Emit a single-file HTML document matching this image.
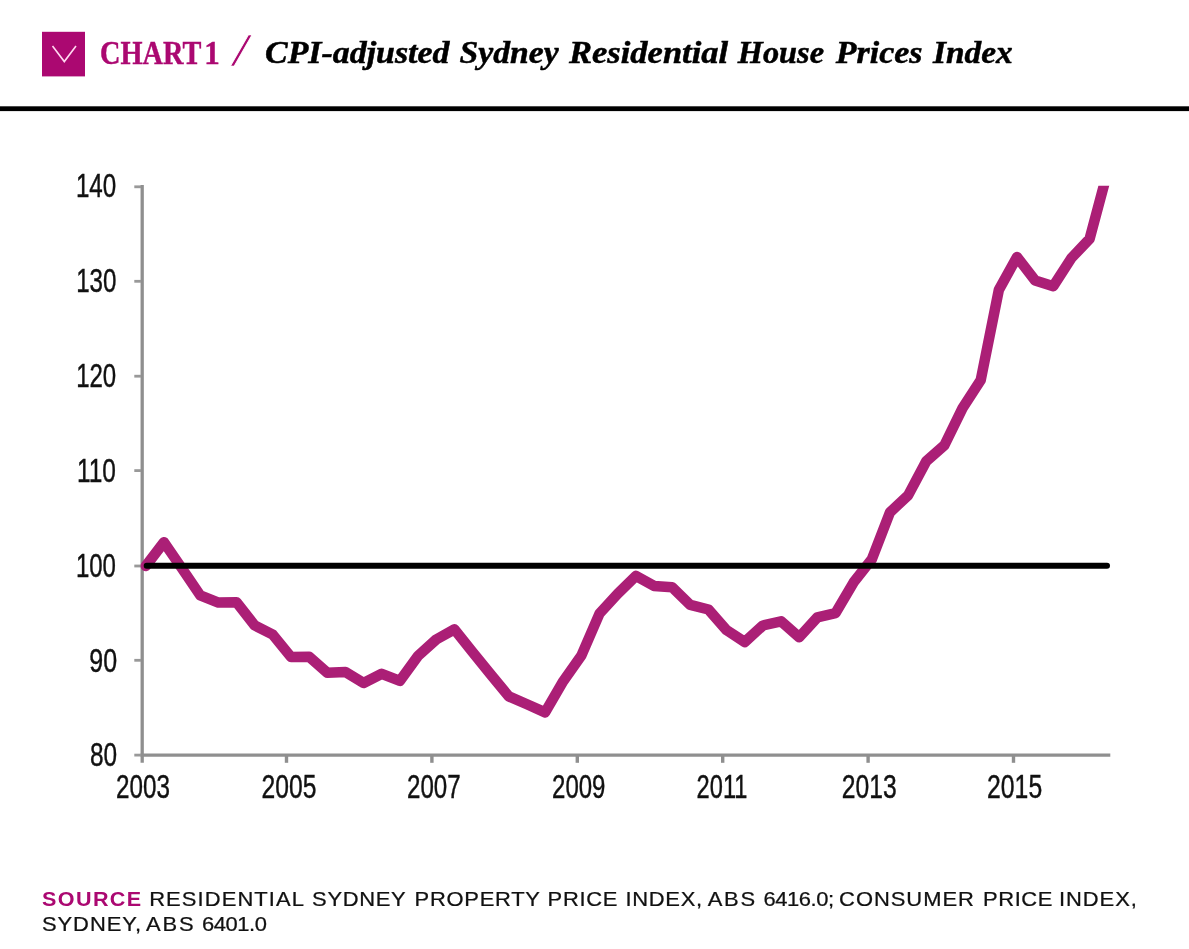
<!DOCTYPE html>
<html lang="en">
<head>
<meta charset="utf-8">
<title>Chart 1 - CPI-adjusted Sydney Residential House Prices Index</title>
<style>
html,body{margin:0;padding:0;background:#fff;}
body{width:1189px;height:949px;overflow:hidden;}
svg{display:block;will-change:transform;}
text{white-space:pre;}
.ax{font-family:"Liberation Sans",sans-serif;font-size:33px;fill:#111;stroke:#111;stroke-width:0.45px;}
.src{font-family:"Liberation Sans",sans-serif;font-size:19.6px;fill:#111;stroke:#111;stroke-width:0.25px;}
.srcb{font-family:"Liberation Sans",sans-serif;font-size:19.6px;font-weight:bold;fill:#ab0871;}
.ch{font-family:"Liberation Serif",serif;font-weight:bold;font-size:34.6px;fill:#ab0871;stroke:#ab0871;stroke-width:0.45px;}
.tt{font-family:"Liberation Serif",serif;font-weight:bold;font-style:italic;font-size:31.6px;fill:#000;stroke:#000;stroke-width:0.5px;}
</style>
</head>
<body>
<svg width="1189" height="949" viewBox="0 0 1189 949">
<rect width="1189" height="949" fill="#fff"/>
<!-- header icon -->
<rect x="42" y="31.8" width="43" height="44.6" fill="#ab0871"/>
<polyline points="52.5,46.1 64.3,61.6 76,46.1" fill="none" stroke="#ffd9f0" stroke-width="1.6"/>
<!-- header slash -->
<text x="230.4" y="65.6" font-family="Liberation Serif, serif" font-size="45.5" fill="#ab0871" stroke="#fff" stroke-width="0.6" textLength="21.5" lengthAdjust="spacingAndGlyphs">/</text>
<rect x="0" y="106.3" width="1189" height="4.8" fill="#000"/>
<clipPath id="plot"><rect x="130" y="185.8" width="1000" height="600"/></clipPath>
<!-- axes -->
<g stroke="#8f8f8f" stroke-width="3.3" fill="none">
<line x1="142.2" y1="185" x2="142.2" y2="762.8"/>
<line x1="140.6" y1="755.1" x2="1110.3" y2="755.1"/>
</g>
<g stroke="#999999" stroke-width="2.8" fill="none">
<line x1="134.3" y1="186.8" x2="141" y2="186.8"/>
<line x1="134.3" y1="281.3" x2="141" y2="281.3"/>
<line x1="134.3" y1="376.2" x2="141" y2="376.2"/>
<line x1="134.3" y1="470.6" x2="141" y2="470.6"/>
<line x1="134.3" y1="566.0" x2="141" y2="566.0"/>
<line x1="134.3" y1="660.3" x2="141" y2="660.3"/>
<line x1="134.3" y1="755.1" x2="141" y2="755.1"/>
</g>
<g stroke="#8f8f8f" stroke-width="3.4" fill="none">
<line x1="286.5" y1="755" x2="286.5" y2="762.8"/>
<line x1="431.9" y1="755" x2="431.9" y2="762.8"/>
<line x1="577.3" y1="755" x2="577.3" y2="762.8"/>
<line x1="722.7" y1="755" x2="722.7" y2="762.8"/>
<line x1="868.1" y1="755" x2="868.1" y2="762.8"/>
<line x1="1013.5" y1="755" x2="1013.5" y2="762.8"/>
</g>
<!-- data -->
<polyline clip-path="url(#plot)" points="145.80,566.0 163.95,542.2 182.10,568.6 200.25,595.4 218.40,602.6 236.55,602.3 254.70,625.4 272.85,634.7 291.00,657.0 309.15,656.8 327.30,672.7 345.45,671.9 363.60,683.0 381.75,673.8 399.90,680.8 418.05,655.9 436.20,639.5 454.35,629.3 472.50,652.0 490.65,674.4 508.80,696.4 526.95,704.3 545.10,712.4 563.25,681.2 581.40,655.5 599.55,613.5 617.70,593.7 635.85,575.9 654.00,585.9 672.15,587.2 690.30,604.9 708.45,609.5 726.60,630.2 744.75,642.0 762.90,625.5 781.05,621.3 799.20,637.2 817.35,617.4 835.50,613.2 853.65,582.3 871.80,559.3 889.95,512.3 908.10,495.4 926.25,461.2 944.40,445.2 962.55,408.1 980.70,380.2 998.85,289.9 1017.00,257.0 1035.15,280.5 1053.30,286.2 1071.45,258.0 1089.60,238.8 1107.75,171.0" fill="none" stroke="#ab1f76" stroke-width="10.5" stroke-linejoin="round" stroke-linecap="round"/>
<line x1="146.7" y1="565.7" x2="1107" y2="565.7" stroke="#000" stroke-width="6" stroke-linecap="round"/>
<!-- text -->
<text id="ch1" class="ch" x="100.11" y="63.6" textLength="101.15" lengthAdjust="spacingAndGlyphs">CHART</text>
<text id="ch2" class="ch" x="204.18" y="63.6" textLength="15.50" lengthAdjust="spacingAndGlyphs">1</text>
<text id="t1" class="tt" x="265.07" y="62.8" textLength="184.41" lengthAdjust="spacingAndGlyphs">CPI-adjusted</text>
<text id="t2" class="tt" x="459.64" y="62.8" textLength="99.09" lengthAdjust="spacingAndGlyphs">Sydney</text>
<text id="t3" class="tt" x="569.09" y="62.8" textLength="158.95" lengthAdjust="spacingAndGlyphs">Residential</text>
<text id="t4" class="tt" x="737.82" y="62.8" textLength="86.21" lengthAdjust="spacingAndGlyphs">House</text>
<text id="t5" class="tt" x="835.79" y="62.8" textLength="86.68" lengthAdjust="spacingAndGlyphs">Prices</text>
<text id="t6" class="tt" x="933.08" y="62.8" textLength="79.65" lengthAdjust="spacingAndGlyphs">Index</text>
<text id="y140" class="ax" x="75.88" y="196.6" textLength="40.34" lengthAdjust="spacingAndGlyphs">140</text>
<text id="y130" class="ax" x="76.15" y="292.2" textLength="40.29" lengthAdjust="spacingAndGlyphs">130</text>
<text id="y120" class="ax" x="76.15" y="387.3" textLength="40.07" lengthAdjust="spacingAndGlyphs">120</text>
<text id="y110" class="ax" x="76.93" y="481.5" textLength="39.03" lengthAdjust="spacingAndGlyphs">110</text>
<text id="y100" class="ax" x="75.88" y="576.6" textLength="40.08" lengthAdjust="spacingAndGlyphs">100</text>
<text id="y90" class="ax" x="89.35" y="671.7" textLength="27.83" lengthAdjust="spacingAndGlyphs">90</text>
<text id="y80" class="ax" x="90.05" y="765.6" textLength="27.13" lengthAdjust="spacingAndGlyphs">80</text>
<text id="x2003" class="ax" x="116.04" y="797.5" textLength="53.92" lengthAdjust="spacingAndGlyphs">2003</text>
<text id="x2005" class="ax" x="261.57" y="797.5" textLength="54.87" lengthAdjust="spacingAndGlyphs">2005</text>
<text id="x2007" class="ax" x="407.04" y="797.5" textLength="53.65" lengthAdjust="spacingAndGlyphs">2007</text>
<text id="x2009" class="ax" x="552.04" y="797.5" textLength="53.39" lengthAdjust="spacingAndGlyphs">2009</text>
<text id="x2011" class="ax" x="696.61" y="797.5" textLength="50.82" lengthAdjust="spacingAndGlyphs">2011</text>
<text id="x2013" class="ax" x="841.82" y="797.5" textLength="54.88" lengthAdjust="spacingAndGlyphs">2013</text>
<text id="x2015" class="ax" x="987.08" y="797.5" textLength="55.09" lengthAdjust="spacingAndGlyphs">2015</text>
<text id="s1" class="srcb" transform="translate(42.04 906.4) scale(1.1 1)" x="0" y="0" textLength="90.11" lengthAdjust="spacing">SOURCE</text>
<text id="s2" class="src" transform="translate(149.13 906.4) scale(1.12 1)" x="0" y="0" textLength="138.28" lengthAdjust="spacing">RESIDENTIAL</text>
<text id="s3" class="src" transform="translate(312.09 906.4) scale(1.12 1)" x="0" y="0" textLength="83.62" lengthAdjust="spacing">SYDNEY</text>
<text id="s4" class="src" transform="translate(414.62 906.4) scale(1.12 1)" x="0" y="0" textLength="111.91" lengthAdjust="spacing">PROPERTY</text>
<text id="s5" class="src" transform="translate(547.62 906.4) scale(1.12 1)" x="0" y="0" textLength="62.38" lengthAdjust="spacing">PRICE</text>
<text id="s6" class="src" transform="translate(625.40 906.4) scale(1.12 1)" x="0" y="0" textLength="68.49" lengthAdjust="spacing">INDEX,</text>
<text id="s7" class="src" transform="translate(707.74 906.4) scale(1.12 1)" x="0" y="0" textLength="42.35" lengthAdjust="spacing">ABS</text>
<text id="s8" class="src" transform="translate(763.56 906.4) scale(1.12 1)" x="0" y="0" textLength="62.96" lengthAdjust="spacing">6416.0;</text>
<text id="s9" class="src" transform="translate(839.09 906.4) scale(1.12 1)" x="0" y="0" textLength="120.37" lengthAdjust="spacing">CONSUMER</text>
<text id="s10" class="src" transform="translate(983.10 906.4) scale(1.12 1)" x="0" y="0" textLength="61.90" lengthAdjust="spacing">PRICE</text>
<text id="s11" class="src" transform="translate(1058.93 906.4) scale(1.12 1)" x="0" y="0" textLength="69.57" lengthAdjust="spacing">INDEX,</text>
<text id="r1" class="src" transform="translate(41.90 931.1) scale(1.12 1)" x="0" y="0" textLength="88.66" lengthAdjust="spacing">SYDNEY,</text>
<text id="r2" class="src" transform="translate(146.05 931.1) scale(1.12 1)" x="0" y="0" textLength="42.54" lengthAdjust="spacing">ABS</text>
<text id="r3" class="src" transform="translate(202.05 931.1) scale(1.12 1)" x="0" y="0" textLength="57.90" lengthAdjust="spacing">6401.0</text>
</svg>
</body>
</html>
